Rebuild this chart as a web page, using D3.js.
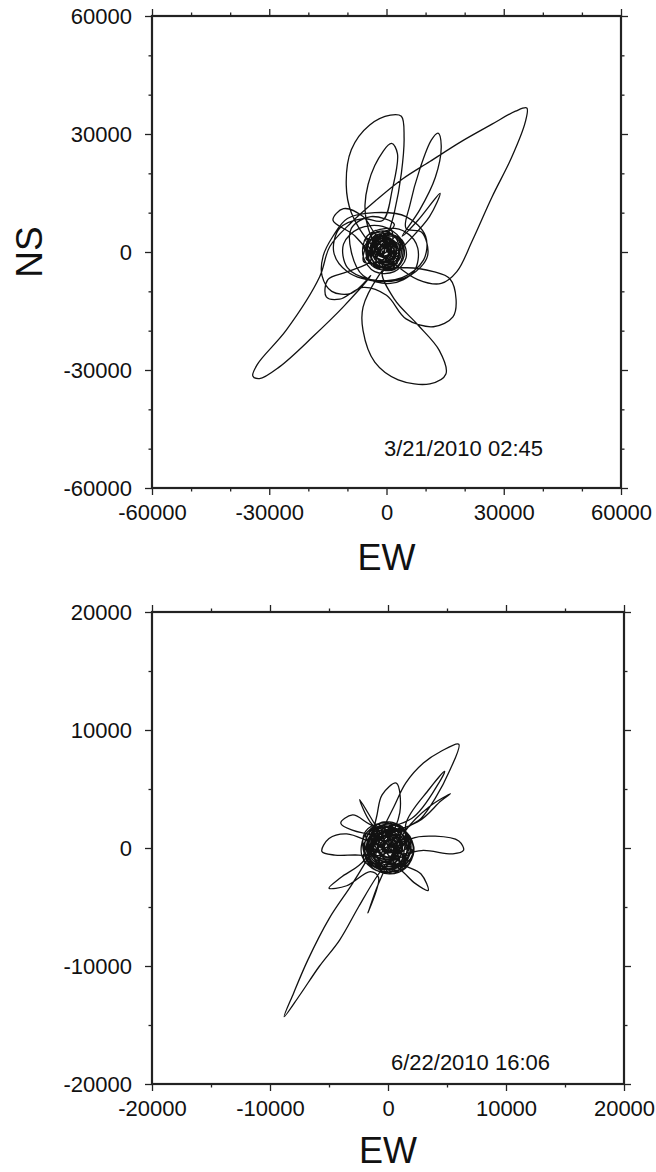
<!DOCTYPE html>
<html>
<head>
	<meta charset="utf-8" />
	<title>Particle motion EW / NS</title>
	<script src="https://cdn.jsdelivr.net/npm/d3@7"></script>
	<style>
		body,
		html {
			margin: 0;
			background: white;
		}
		svg text {
			font-family: "Liberation Sans", Arial, Helvetica, sans-serif;
			fill: #111;
		}
	</style>
</head>
<body>
	<svg id="chart" width="656" height="1172"></svg>
	<script>
		// event 1 : 3/21/2010 02:45  (EW / NS displacement)
		var ew1 = [0, 1500, 500, -2000, -3000, -1500, 1500, 2500, 1000, -2500, -4200, -3000, 500, 3500, 3200, 0, -3800, -5000, -2500, 2000, 4500, 3500,
			-1000, -7000, -11000, -10000, -4000, 4000, 9500, 10000, 5000, -3000, -10000, -13700,
			-16200, -16500, -14000, -9000, -4000,
			-11000, -18800, -27400, -32500, -34200, -33000, -25600, -17100, -14500, -9000, -2600, 4000, 11100, 19000, 27000, 33000, 35900, 35500, 32000, 27000, 22000, 18000, 14000, 8000, 2000,
			-4000, -9000, -10300, -9000, -4300, 1000, 3800, 4500, 3800, 2000, 0, -1000,
			-4000, -5500, -3000, 1300, 2800, 1500, -1000,
			-6000, -12000, -13500, -10000, -2000, 6000, 10500, 9000, 5000,
			6000, 8500, 11500, 13200, 14000, 12500, 8500, 4000,
			8000, 13700, 11000, 4000,
			-2000, -6000, -6000, -3000, 3000, 11100, 15200, 13500, 8000, 2000, -1000,
			5000, 12000, 16200, 17800, 17000, 12000, 5000, 0,
			-6000, -12000, -15400, -15000, -10000, -4000,
			-8000, -13700, -11000, -6000, -2000,
			2000, -4000, -9000, -9000, -6000, 1000, 7000, 8000, 5000,
			0, -5000, -6000, -3000, 2000, 5000, 4000, 500, -3500, -4000, -1000, 2500, 3000, 1000, -2000, -3000, -1500, 1000, 2000, 0, -1500, -1000, 500, 0];
		var ns1 = [0, 1200, 3000, 2500, 0, -2500, -2000, 800, 3500, 3800, 1000, -3000, -3800, -1500, 2800, 4800, 3200, -500, -4000, -4500, -1000, 3500,
			6500, 6000, 2000, -4000, -7000, -6500, -2000, 4000, 9000, 10000, 8500, 4000,
			-1000, -6000, -10000, -10500, -6000,
			-13900, -21500, -29200, -32200, -31500, -28500, -19800, -6300, 1400, 7500, 13200, 18500, 23000, 28000, 32500, 35800, 36600, 33000, 24000, 14000, 3000, -5000, -8000, -7000, -3000,
			2000, 10000, 17000, 26000, 32300, 34800, 34500, 29000, 20000, 10000, 3000, -1000,
			4000, 12000, 22000, 27600, 25000, 16000, 8000,
			8500, 6000, 0, -5000, -7500, -6000, -1000, 5000, 6000,
			12000, 21000, 28500, 30200, 27000, 19000, 10700, 4000,
			8000, 14900, 9000, 1000,
			-6000, -14000, -20000, -28000, -32500, -33500, -31000, -25000, -18500, -12000, -5000,
			-4000, -5000, -6800, -12000, -16500, -19000, -17000, -11000,
			-9000, -12000, -11400, -7000, -5000, -2000,
			4000, 8100, 11000, 9000, 4000,
			7000, 9000, 6000, 0, -6000, -8000, -5000, 1000, 5000,
			6000, 4000, -1000, -5000, -5000, -1500, 3000, 4500, 2500, -1500, -4000, -3000, 500, 3000, 3000, 0, -2500, -2000, 500, 2000, 1000, -1000, -500, 500];
		// the dense scribble at the centre (coda)
		var ew1Core = [1200, -500, -3100, -3600, -1900, 1000, 2400, 600, -2400, -4800, -4300, -1000, 2600, 3300, 1400, -1600, -4200, -5300, -3800, -200,
			3100, 4200, 2700, -200, -2700, -2900, -900, 1500, 1800, -100, -1800, -1600, 100, 1000, 0, -1200, -600, 300, -2100, -3900,
			-2600, 500, 3000, 2200, -900, -3300, -3000, -300, 2000, 2400, 100, -2200, -2000, 200, 400, -1000,
			2700, -4800, 200, -2800, 3200, -5300, -300, 1200, -5800, 2700, -2300, -4300, 3700, -2800, 200, -3800, 2200, -5300, 1700, -800,
			-3300, 1200, -1800, -3800, 700, 2200, -1800, -4800, -300, 1700, -2800, -5800, 3200, 200, -3800, 1200, 3200, -3300, -1800, 200];
		var ns1Core = [2100, 3900, 2600, -400, -2700, -2100, 900, 3000, 4400, 1900, -2200, -4100, -2800, 1200, 4600, 5300, 3800, 200, -3400, -4600,
			-3300, 600, 3900, 4200, 2500, -800, -2600, -1400, 1600, 2600, 1200, -900, -1500, 200, 1500, 600, -400, 900, 3200, 900,
			-2300, -3300, -1200, 2600, 3500, 1700, -1900, -3100, -1900, 1300, 3300, 1900, -600, -1100, 800, 1100,
			2500, -500, 5000, -3500, -2000, 3500, -4500, 5500, 1000, -3000, 5000, -3000, 1500, 2500, -2500, 4500, 4000, -1500, -4000, 3000,
			-1000, 1000, 4000, 500, -1500, 2500, -4000, 2000, 1500, -2000, 5500, -2500, -500, 3500, -1500, -4500, 3500, 3000, -1000, 2000];
		var ticks1 = [-60000, -30000, 0, 30000, 60000];
		var minor1 = [-50000, -40000, -20000, -10000, 10000, 20000, 40000, 50000];
		var date1 = "3/21/2010 02:45";

		// event 2 : 6/22/2010 16:06
		var ew2 = [0, 1000, 300, -1000, -1500, -500, 1000, 1800, 1200, -500, -1800, -1800, -200, 1500, 2200, 1500,
			2800, 4000, 5200, 6000, 4500, 3000, 1500, 500, -500, -1500, -3000, -5000, -6800, -8000, -8800, -7500, -5800, -4100, -2500, -1000, 500,
			2000, 4000, 6000, 6400, 5500, 3000, 1000,
			-1500, -3500, -5000, -5600, -4500, -2500, -800,
			1000, 2300, 3400, 2800, 1000,
			-800, -2400, -1500, 0,
			1000, 700, -500, -1000,
			-2000, -4000, -5000, -3500, -1500,
			-800, -1700, -800,
			1500, 3500, 5300, 4500, 2500,
			-1500, -4000, -3000, -1000,
			2000, 4300, 4800, 3500, 1500,
			2000, 1200, -600, -2000, -2200, -1000, 800, 2100, 1800, 300, -1400, -2000, -1200, 500, 1700, 1500, 0, -1300, -900, 100,
			-500, -1600, -1300, 200, 1500, 1400, 200, -1000, -1200, -200, 1000, 1100, 0, -800, -600, 400, 800, 200, -500, -300, 300, 200];
		var ns2 = [0, 800, 1800, 1200, -300, -1500, -1200, 300, 1800, 2200, 1000, -1000, -2000, -1600, 0, 1500,
			2500, 4200, 6500, 8800, 8200, 7200, 5500, 3500, 1500, -500, -3000, -6000, -9500, -12300, -14300, -12500, -10000, -7800, -5000, -2500, -500,
			800, 1000, 600, -200, -500, -200, -500,
			500, 1200, 800, -300, -600, -600, -800,
			-1800, -3000, -3600, -2200, -1200,
			1500, 4100, 2200, 1000,
			3000, 5500, 4500, 2500,
			-1000, -2500, -3400, -3200, -2000,
			-2500, -5500, -3000,
			1500, 3500, 4600, 4000, 2200,
			1200, 2100, 2800, 1800,
			2500, 5500, 6500, 5000, 2000,
			-400, 1600, 2100, 1000, -700, -1900, -1900, -500, 1000, 2000, 1500, 0, -1500, -1800, -700, 900, 1500, 600, -800, 0,
			1500, 500, -1000, -1600, -800, 900, 1600, 1000, -400, -1200, -700, 600, 1100, 400, -600, -800, 200, 800, 300, -400, -300, 300];
		var ew2Core = [900, -400, -1500, -1800, -1000, 500, 1700, 1900, 1000, -600, -1900, -2100, -1400, 100, 1500, 2200, 1600, 300, -900, -1200,
			-600, 600, 1200, 1000, 0, -800, -700, 200, 800, 400, -300, -400, 300, 1400, 800, -800, -1700, -1400, 0, 1300,
			1600, 900, -300, -1300, -1300, -300, 900, 1100, 500, -500, -900, -400, 400, 600, 0, -400, 100,
			1500, -1600, 400, -800, 1700, -1900, 200, 900, -2100, 1500, -600, -1500, 1900, -800, 500, -1200, 1200, -1800, 1000, 0,
			-1000, 800, -400, -1200, 600, 1200, -400, -1600, 200, 1000, -800, -2000, 1600, 400, -1200, 800, 1600, -1000, -400, 400,
			2100, -300, -1400, 1100, 300, -1700, 900, 1300, -900, 100];
		var ns2Core = [1300, 1900, 1100, -300, -1500, -1800, -900, 600, 1800, 2100, 1400, -100, -1600, -2200, -1700, -200, 1300, 1600, 1000, -200,
			-1100, -1200, -300, 800, 1200, 600, -500, -800, 0, 700, 500, -200, -400, 400, 1600, 1600, 400, -1100, -1600, -1200,
			200, 1100, 1400, 700, -600, -1400, -1000, 100, 900, 900, 100, -700, -600, 300, 600, 100, -300,
			800, -500, 1900, -1700, -1100, 1200, -2100, 2000, 200, -1500, 1800, -1500, 400, 900, -1200, 1600, 1400, -800, -1800, 1000,
			-600, 200, 1400, 0, -800, 800, -1800, 600, 400, -1000, 2000, -1200, -400, 1200, -800, -2000, 1200, 1000, -600, 600,
			-300, -900, 1300, -400, 1600, -100, -1400, 1700, 300, -300];
		var ticks2 = [-20000, -10000, 0, 10000, 20000];
		var minor2 = [-15000, -5000, 5000, 15000];
		var date2 = "6/22/2010 16:06";

		var svg = d3.select("#chart");
		var fontFam = '"Liberation Sans", Arial, Helvetica, sans-serif';

		function panel(o) {
			var g = svg.append("g");
			var lo = o.ticks[0], hi = o.ticks[o.ticks.length - 1];
			var x = d3.scaleLinear().domain([lo, hi]).range([o.left, o.right]);
			var y = d3.scaleLinear().domain([lo, hi]).range([o.bottom, o.top]);
			var fmt = function (d) { return String(d); };

			function style(a) {
				a.select(".domain").remove();
				a.attr("font-family", fontFam).attr("font-size", 22);
				a.selectAll(".tick line").attr("stroke", "#222").attr("stroke-width", 1.3);
				a.selectAll(".tick text").attr("fill", "#111");
			}

			// minor ticks, all four sides
			g.append("g").attr("transform", "translate(0," + o.bottom + ")")
				.call(d3.axisBottom(x).tickValues(o.minor).tickSize(3.5).tickFormat("")).call(style);
			g.append("g").attr("transform", "translate(0," + o.top + ")")
				.call(d3.axisTop(x).tickValues(o.minor).tickSize(3.5).tickFormat("")).call(style);
			g.append("g").attr("transform", "translate(" + o.left + ",0)")
				.call(d3.axisLeft(y).tickValues(o.minor).tickSize(3.5).tickFormat("")).call(style);
			g.append("g").attr("transform", "translate(" + o.right + ",0)")
				.call(d3.axisRight(y).tickValues(o.minor).tickSize(3.5).tickFormat("")).call(style);

			// major ticks
			g.append("g").attr("transform", "translate(0," + o.bottom + ")")
				.call(d3.axisBottom(x).tickValues(o.ticks).tickSize(7).tickPadding(9.8).tickFormat(fmt)).call(style);
			g.append("g").attr("transform", "translate(0," + o.top + ")")
				.call(d3.axisTop(x).tickValues(o.ticks).tickSize(7).tickFormat("")).call(style);
			g.append("g").attr("transform", "translate(" + o.left + ",0)")
				.call(d3.axisLeft(y).tickValues(o.ticks).tickSize(7).tickPadding(13).tickFormat(fmt)).call(style);
			g.append("g").attr("transform", "translate(" + o.right + ",0)")
				.call(d3.axisRight(y).tickValues(o.ticks).tickSize(7).tickFormat("")).call(style);

			// trajectory: main motion followed by the coda scribble
			var pts = d3.zip(o.ew.concat(o.ewCore), o.ns.concat(o.nsCore));
			var line = d3.line()
				.x(function (d) { return x(d[0]); })
				.y(function (d) { return y(d[1]); })
				.curve(d3.curveCatmullRom.alpha(0.5));
			g.append("path")
				.datum(pts)
				.attr("d", line)
				.attr("fill", "none")
				.attr("stroke", "#111")
				.attr("stroke-width", 1.3)
				.attr("stroke-linejoin", "round");

			// frame
			g.append("rect")
				.attr("x", o.left).attr("y", o.top)
				.attr("width", o.right - o.left).attr("height", o.bottom - o.top)
				.attr("fill", "none").attr("stroke", "#222").attr("stroke-width", 2.2);

			g.append("text")
				.attr("x", o.dateX).attr("y", o.dateY)
				.attr("text-anchor", "end")
				.attr("font-size", 22)
				.text(o.date);

			g.append("text")
				.attr("x", (o.left + o.right) / 2).attr("y", o.bottom + o.ewDy)
				.attr("text-anchor", "middle")
				.attr("font-size", 36)
				.text("EW");

			if (o.ylab) {
				g.append("text")
					.attr("transform", "translate(42," + (o.top + o.bottom) / 2 + ") rotate(-90)")
					.attr("text-anchor", "middle")
					.attr("font-size", 37)
					.text("NS");
			}
		}

		panel({ ew: ew1, ns: ns1, ewCore: ew1Core, nsCore: ns1Core, ticks: ticks1, minor: minor1, date: date1,
			left: 152, right: 621, top: 16, bottom: 488, dateX: 543, dateY: 456, ewDy: 82, ylab: true });
		panel({ ew: ew2, ns: ns2, ewCore: ew2Core, nsCore: ns2Core, ticks: ticks2, minor: minor2, date: date2,
			left: 152, right: 624, top: 612, bottom: 1084, dateX: 550, dateY: 1070, ewDy: 79, ylab: false });
	</script>
</body>
</html>
